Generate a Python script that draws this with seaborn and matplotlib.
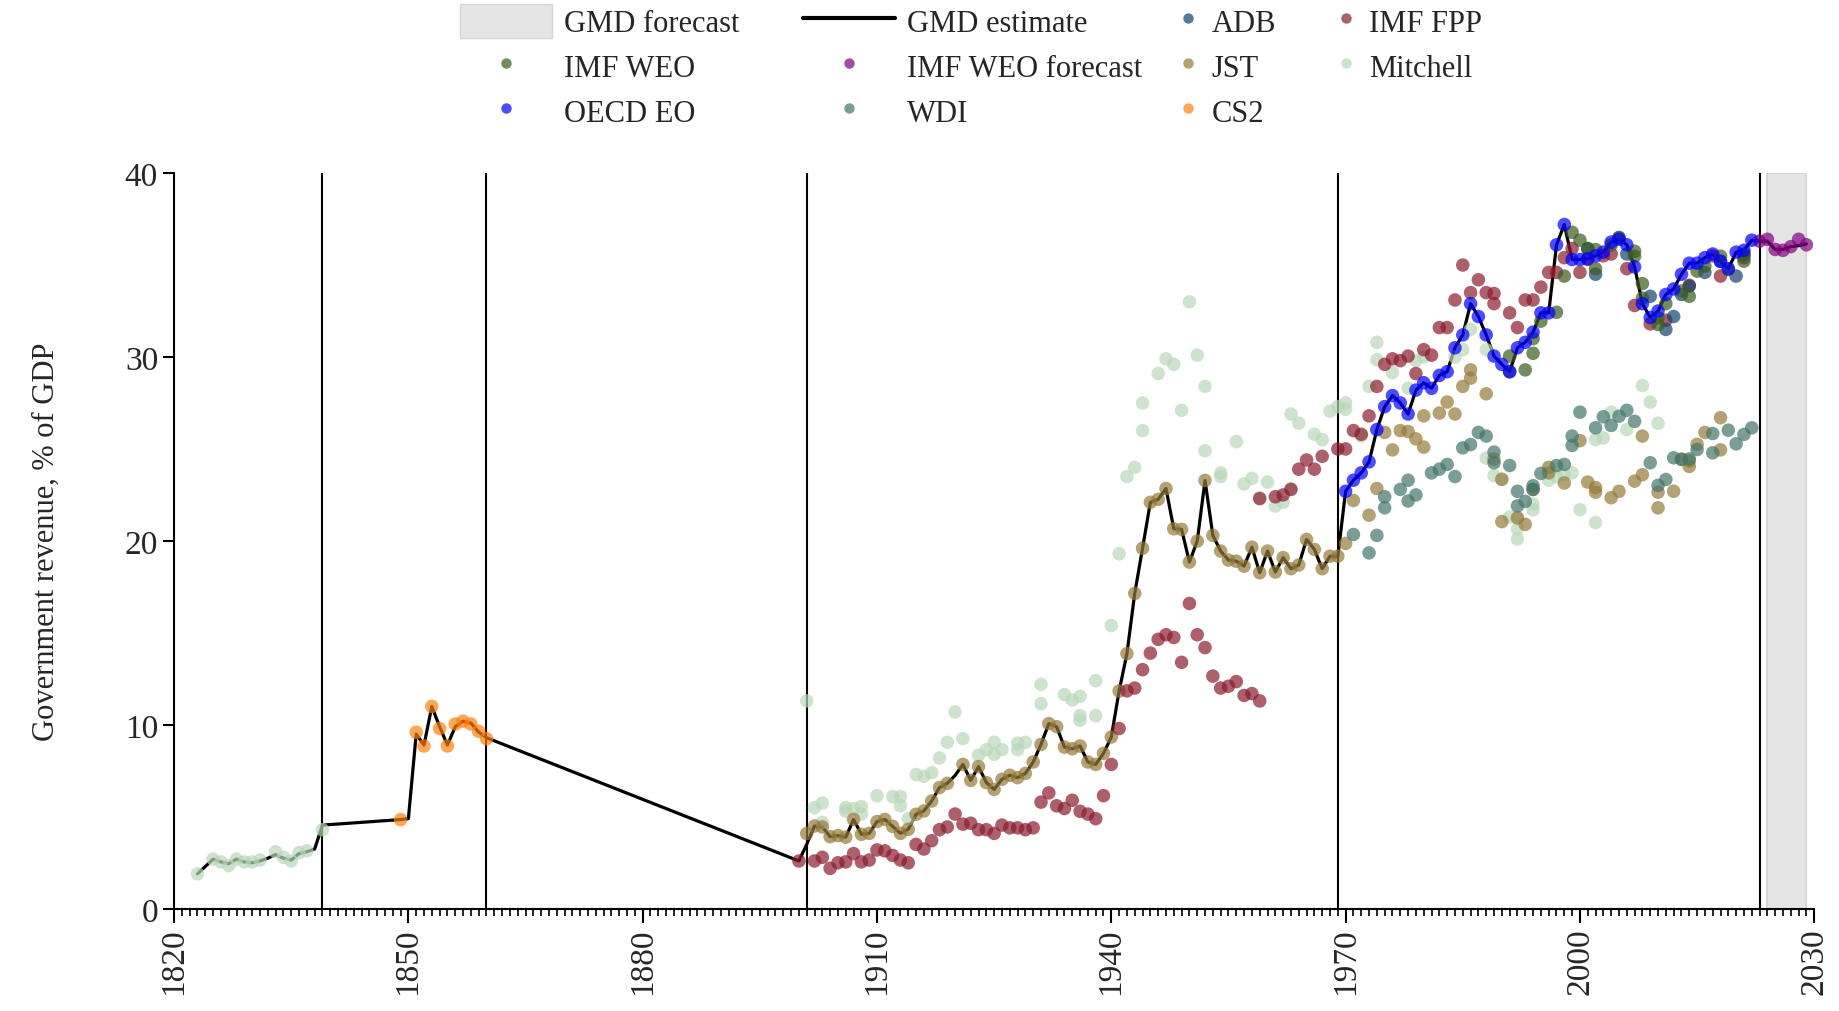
# Government revenue, % of GDP -- GMD estimate vs source series

import pandas as pd
import matplotlib
matplotlib.use("Agg")
import matplotlib.pyplot as plt
import matplotlib.patches as mpatches
from matplotlib.lines import Line2D
from matplotlib.ticker import MultipleLocator, FixedLocator
import seaborn as sns

# ==========================================================
# Data
# ==========================================================

gmd_years = ([1823] + list(range(1825, 1840)) + list(range(1849, 1861))
             + list(range(1900, 2030)))
gmd_values = [
    1.9,
    2.7, 2.55, 2.45, 2.7, 2.55, 2.5, 2.6, 2.75, 2.95, 2.75, 2.65, 3.0, 3.1, 3.25, 4.55,
    4.85, 4.9, 9.5, 8.9, 11.0, 9.9, 8.9, 9.9, 10.2, 10.1, 9.6, 9.3,
    # 1900-1939
    2.6, 3.5, 4.5, 4.45, 3.92, 3.98, 3.89, 4.86, 4.05, 4.1,
    4.74, 4.86, 4.48, 4.1, 4.32, 5.14, 5.32, 5.86, 6.59, 6.82,
    7.25, 7.85, 6.98, 7.73, 6.86, 6.49, 7.04, 7.26, 7.13, 7.36,
    7.98, 8.94, 10.07, 9.9, 8.79, 8.7, 8.85, 7.98, 7.85, 8.45,
    # 1940-1969
    9.34, 11.84, 13.87, 17.15, 19.6, 22.1, 22.26, 22.85, 20.66, 20.63,
    18.85, 19.99, 23.29, 20.3, 19.45, 18.96, 18.9, 18.63, 19.66, 18.27,
    19.45, 18.31, 19.09, 18.49, 18.69, 20.08, 19.54, 18.49, 19.17, 19.17,
    # 1970-1999
    22.7, 23.3, 23.7, 24.3, 26.05, 27.3, 27.9, 27.5, 26.9, 28.2,
    28.6, 28.3, 29.0, 29.2, 30.5, 31.2, 32.9, 32.2, 31.2, 30.05,
    29.6, 29.2, 30.5, 30.8, 31.35, 32.4, 32.4, 36.1, 37.2, 35.3,
    # 2000-2029
    35.3, 35.35, 35.5, 35.7, 36.25, 36.4, 36.1, 34.9, 32.9, 32.15,
    32.5, 33.4, 33.7, 34.5, 35.1, 35.1, 35.4, 35.6, 35.2, 34.8,
    35.7, 35.8, 36.35, 36.3, 36.3, 35.85, 35.85, 36.0, 36.05, 36.15,
]

oecd_years = list(range(1970, 2023))
oecd_values = [
    22.7, 23.3, 23.7, 24.3, 26.05, 27.3, 27.9, 27.5, 26.9, 28.2,
    28.6, 28.3, 29.0, 29.2, 30.5, 31.2, 32.9, 32.2, 31.2, 30.05,
    29.6, 29.2, 30.5, 30.8, 31.35, 32.4, 32.4, 36.1, 37.2, 35.3,
    35.3, 35.35, 35.5, 35.7, 36.25, 36.4, 36.1, 34.9, 32.9, 32.15,
    32.5, 33.4, 33.7, 34.5, 35.1, 35.1, 35.4, 35.6, 35.2, 34.8,
    35.7, 35.8, 36.35,
]

cs2_years = [1849, 1851, 1852, 1853, 1854, 1855, 1856, 1857, 1858, 1859, 1860]
cs2_values = [4.85, 9.6, 8.85, 11.0, 9.8, 8.85, 10.05, 10.2, 10.05, 9.65, 9.25]

jst_years = (list(range(1901, 1920)) + list(range(1921, 1971))
             + [1971, 1973, 1974, 1975, 1976, 1977, 1978, 1979, 1980, 1980,
                1982, 1983, 1984, 1985, 1986, 1986, 1988, 1989, 1990, 1990,
                1992, 1993, 1994, 1996, 1996, 1998, 2000, 2001, 2002, 2002,
                2004, 2005, 2007, 2008, 2008, 2010, 2010, 2012, 2013, 2014,
                2014, 2015, 2016, 2018, 2018])
jst_values = [
    4.09, 4.5, 4.45, 3.92, 3.98, 3.89, 4.86, 4.05, 4.1, 4.74,
    4.86, 4.48, 4.1, 4.32, 5.14, 5.32, 5.86, 6.59, 6.82,
    7.85, 6.98, 7.73, 6.86, 6.49, 7.04, 7.26, 7.13, 7.36, 7.98,
    8.94, 10.07, 9.9, 8.79, 8.7, 8.85, 7.98, 7.85, 8.45,
    9.34, 11.84, 13.87, 17.15, 19.6, 22.1, 22.26, 22.85, 20.66, 20.63,
    18.85, 19.99, 23.29, 20.3, 19.45, 18.96, 18.9, 18.63, 19.66, 18.27,
    19.45, 18.31, 19.09, 18.49, 18.69, 20.08, 19.54, 18.49, 19.17, 19.17,
    19.86,
    22.2, 21.4, 22.85, 25.9, 24.95, 26.0, 25.95, 25.55, 25.1, 26.8,
    26.95, 27.55, 26.9, 28.4, 29.3, 28.85, 28.0, 24.45, 23.35, 21.05,
    21.25, 20.9, 22.8, 24.0, 23.7, 23.15, 25.45, 23.2, 22.9, 22.65,
    22.35, 22.7, 23.25, 25.7, 23.6, 21.8, 22.65, 22.7, 24.45, 24.05,
    24.35, 25.25, 25.9, 26.7, 24.95,
]

fpp_years = ([1900] + list(range(1902, 1960))
             + [1959, 1961, 1962, 1963, 1964, 1965, 1966, 1967, 1969, 1970,
                1971, 1972, 1973, 1974, 1975, 1976, 1977, 1978, 1979, 1980,
                1981, 1982, 1983, 1984, 1985, 1986, 1987, 1988, 1989, 1989,
                1991, 1992, 1993, 1994, 1995, 1996, 1997, 1998, 1999, 2000,
                2001, 2003, 2004, 2006, 2007, 2009, 2011, 2014, 2017, 2018,
                2021])
fpp_values = [
    2.6,
    2.6, 2.8, 2.2, 2.5, 2.55, 3.0, 2.55, 2.65, 3.2, 3.15,
    2.9, 2.65, 2.5, 3.5, 3.25, 3.7, 4.3, 4.45, 5.15, 4.6,
    4.65, 4.3, 4.3, 4.1, 4.55, 4.4, 4.4, 4.3, 4.4, 5.8,
    6.3, 5.6, 5.45, 5.9, 5.3, 5.15, 4.9, 6.15, 7.85, 9.8,
    11.85, 12.0, 13.0, 13.9, 14.65, 14.9, 14.75, 13.4, 16.6, 14.9,
    14.2, 12.65, 12.0, 12.1, 12.35, 11.6, 11.7, 11.3,
    22.3, 22.4, 22.5, 22.8, 23.9, 24.4, 23.9, 24.6, 25.0, 25.0,
    26.0, 25.8, 26.8, 28.4, 29.6, 29.9, 29.8, 30.05, 29.1, 30.4,
    30.1, 31.6, 31.6, 33.1, 35.0, 33.5, 34.2, 33.5, 33.45, 32.9,
    32.4, 31.6, 33.1, 33.1, 33.8, 34.6, 34.6, 35.4, 35.9, 34.6,
    35.3, 35.5, 35.6, 34.8, 32.8, 31.8, 32.0, 33.9, 35.5, 34.4,
    35.4,
]

mitchell_years = [
    1823, 1825, 1826, 1827, 1828, 1829, 1830, 1831, 1833, 1834, 1835, 1836, 1837, 1839,
    1901, 1902, 1903, 1903, 1906, 1906, 1907, 1908, 1908, 1910, 1912, 1913, 1913,
    1914, 1915, 1916, 1917, 1918, 1919, 1920, 1921, 1923, 1924, 1925, 1925, 1926,
    1928, 1928, 1929, 1931, 1931, 1934, 1935, 1936, 1936, 1936, 1938, 1938,
    1940, 1941, 1942, 1943, 1944, 1944, 1946, 1947, 1948, 1949, 1950, 1951, 1952,
    1952, 1954, 1954, 1956, 1957, 1958, 1959, 1960, 1961, 1962, 1963, 1963, 1964,
    1966, 1967, 1968, 1969, 1970, 1970,
    1972, 1973, 1974, 1974, 1976, 1978, 1979, 1980, 1984, 1985, 1986, 1988, 1988,
    1989, 1990, 1991, 1992, 1992, 1992, 1994, 1994, 1996, 1997, 1998, 1999, 2000,
    2002, 2002, 2003, 2004, 2006, 2008, 2009, 2010,
]
mitchell_values = [
    1.9, 2.7, 2.55, 2.35, 2.7, 2.55, 2.55, 2.65, 3.1, 2.8, 2.6, 3.05, 3.15, 4.3,
    11.3, 5.5, 5.75, 4.7, 5.3, 5.5, 5.45, 5.15, 5.55, 6.15, 6.1, 6.1, 5.6,
    4.9, 7.3, 7.2, 7.4, 8.2, 9.05, 10.7, 9.25, 8.35, 8.65, 8.4, 9.05, 8.65,
    8.65, 9.0, 9.05, 11.15, 12.2, 11.65, 11.35, 11.55, 10.5, 10.25, 10.5, 12.4,
    15.4, 19.3, 23.5, 24.0, 27.5, 26.0, 29.1, 29.9, 29.6, 27.1, 33.0, 30.1, 28.4,
    24.9, 23.5, 23.7, 25.4, 23.1, 23.4, 22.35, 23.2, 21.9, 22.1, 22.85, 26.9, 26.4,
    25.8, 25.5, 27.05, 27.3, 27.5, 27.15,
    25.7, 28.4, 30.8, 29.85, 29.15, 28.3, 29.8, 30.0, 30.0, 30.4, 31.5, 30.4, 24.5,
    23.55, 23.35, 21.3, 21.25, 20.65, 20.1, 22.0, 21.7, 23.3, 23.5, 23.6, 23.7, 21.7,
    21.0, 25.5, 25.6, 27.0, 26.05, 28.45, 27.55, 26.4,
]

wdi_years = [
    1971, 1973, 1974, 1975, 1975, 1977, 1978, 1978, 1979, 1981, 1982, 1983, 1984,
    1985, 1986, 1987, 1988, 1989, 1989, 1991, 1992, 1992, 1993, 1994, 1994, 1995,
    1997, 1998, 1999, 1999, 2000, 2002, 2003, 2004, 2005, 2006, 2007, 2009, 2010,
    2011, 2012, 2013, 2014, 2015, 2017, 2017, 2019, 2020, 2021, 2022,
]
wdi_values = [
    20.35, 19.35, 20.3, 21.8, 22.4, 22.8, 23.3, 22.17, 22.5, 23.7, 23.9, 24.16, 23.5,
    25.06, 25.24, 25.9, 25.7, 24.83, 24.25, 24.1, 22.7, 21.9, 22.15, 23.0, 22.8, 23.67,
    24.1, 24.16, 25.19, 25.7, 27.0, 26.15, 26.75, 26.28, 26.78, 27.1, 26.5, 24.25, 23.02,
    23.34, 24.52, 24.43, 24.46, 24.97, 24.79, 25.84, 26.02, 25.28, 25.79, 26.15,
]

weo_years = [
    1991, 1991, 1993, 1994, 1994, 1995, 1997, 1998, 1999, 2000, 2001, 2002, 2002,
    2004, 2005, 2007, 2007, 2008, 2008, 2010, 2010, 2011, 2013, 2014, 2015, 2016,
    2018, 2019, 2021, 2021,
]
weo_values = [
    30.05, 29.2, 29.3, 30.2, 31.0, 31.95, 32.43, 34.4, 36.78, 36.35, 35.88, 34.8, 35.84,
    36.1, 36.47, 35.75, 35.48, 33.99, 33.2, 32.13, 31.77, 32.9, 33.58, 33.3, 34.67, 34.94,
    35.48, 34.76, 35.21, 35.57,
]

adb_years = [2001, 2002, 2005, 2006, 2009, 2011, 2012, 2013, 2014, 2016, 2018, 2020, 2021]
adb_values = [35.9, 34.5, 36.5, 35.6, 33.3, 31.5, 32.2, 33.4, 33.85, 34.6, 35.2, 34.4, 35.6]

weo_fc_years = [2023, 2024, 2025, 2026, 2027, 2028, 2029]
weo_fc_values = [36.3, 36.4, 35.85, 35.8, 36.0, 36.4, 36.1]

split_years = [1839, 1860, 1901, 1969, 2023]
forecast_span = (2024, 2029)
x_ticks = [1820, 1850, 1880, 1910, 1940, 1970, 2000, 2030]

palette = {
    "Mitchell": "#b8d8b8",
    "JST": "#957b3a",
    "WDI": "#42756a",
    "IMF FPP": "#8a1c2c",
    "ADB": "#12426c",
    "IMF WEO": "#3a5c1e",
    "CS2": "#ff7f0e",
    "IMF WEO forecast": "#800080",
    "OECD EO": "#0000ff",
}
ALPHA = 0.7

# ==========================================================
# Long table for seaborn (draw order = list order)
# ==========================================================

series = [
    ("Mitchell", mitchell_years, mitchell_values),
    ("JST", jst_years, jst_values),
    ("WDI", wdi_years, wdi_values),
    ("IMF FPP", fpp_years, fpp_values),
    ("ADB", adb_years, adb_values),
    ("IMF WEO", weo_years, weo_values),
    ("CS2", cs2_years, cs2_values),
    ("IMF WEO forecast", weo_fc_years, weo_fc_values),
    ("OECD EO", oecd_years, oecd_values),
]
df = pd.concat(
    [pd.DataFrame({"source": n, "year": y, "value": v}) for n, y, v in series],
    ignore_index=True,
)
gmd = pd.DataFrame({"year": gmd_years, "value": gmd_values})

# ==========================================================
# Plot
# ==========================================================

sns.set_theme(style="ticks")
plt.rcParams["font.family"] = ["Liberation Serif", "DejaVu Serif"]
FS = 22
TICK_FS = 24

fig, ax = plt.subplots(figsize=(18.4, 10.12), dpi=100)
fig.subplots_adjust(left=0.0946, right=0.986, bottom=0.101, top=0.828)

ax.axvspan(*forecast_span, facecolor="#e5e5e5", edgecolor="#d6d6d6", lw=1.5, zorder=0)
for yr in split_years:
    ax.axvline(yr, color="black", lw=1.5, zorder=1)

sns.lineplot(data=gmd, x="year", y="value", color="black", lw=2.3,
             estimator=None, ax=ax, zorder=2)

sns.scatterplot(data=df, x="year", y="value", hue="source", palette=palette,
                s=95, alpha=ALPHA, linewidth=0, legend=False, ax=ax, zorder=3)

ax.set_xlim(1820, 2030)
ax.set_ylim(0, 40)
ax.xaxis.set_major_locator(FixedLocator(x_ticks))
ax.xaxis.set_minor_locator(MultipleLocator(1))
ax.yaxis.set_major_locator(MultipleLocator(10))
ax.tick_params(axis="x", which="major", length=10, width=1.5, labelsize=TICK_FS,
               labelrotation=90, color="black")
ax.tick_params(axis="x", which="minor", length=5, width=1.2, color="black")
ax.tick_params(axis="y", which="major", length=8, width=1.5, labelsize=TICK_FS, color="black")
for side in ["left", "bottom"]:
    ax.spines[side].set_linewidth(1.5)
    ax.spines[side].set_color("black")
sns.despine(ax=ax)

ax.set_xlabel("")
ax.set_ylabel("Government revenue, % of GDP", fontsize=FS, labelpad=46)

# ==========================================================
# Legend (two blocks, like the reference)
# ==========================================================

def dot(name):
    return Line2D([], [], ls="", marker="o", markersize=7.5, markeredgewidth=0,
                  color=palette[name], alpha=ALPHA)

h1 = [mpatches.Patch(facecolor="#e5e5e5", edgecolor="#d6d6d6"), dot("IMF WEO"), dot("OECD EO"),
      Line2D([], [], color="black", lw=3), dot("IMF WEO forecast"), dot("WDI")]
l1 = ["GMD forecast", "IMF WEO", "OECD EO", "GMD estimate", "IMF WEO forecast", "WDI"]
h2 = [dot("ADB"), dot("JST"), dot("CS2"), dot("IMF FPP"), dot("Mitchell")]
l2 = ["ADB", "JST", "CS2", "IMF FPP", "Mitchell"]

common = dict(loc="upper left", ncol=2, frameon=False, fontsize=FS,
              handleheight=1.35, labelspacing=0.35, borderpad=0, borderaxespad=0)
fig.legend(h1, l1, bbox_to_anchor=(460 / 1840, 0.995), handlelength=3.0,
           handletextpad=0.4, columnspacing=2.1, **common)
fig.legend(h2, l2, bbox_to_anchor=(1176 / 1840, 0.995), handlelength=0.8,
           handletextpad=0.36, columnspacing=1.9, **common)

fig.savefig("out.png", dpi=100)
